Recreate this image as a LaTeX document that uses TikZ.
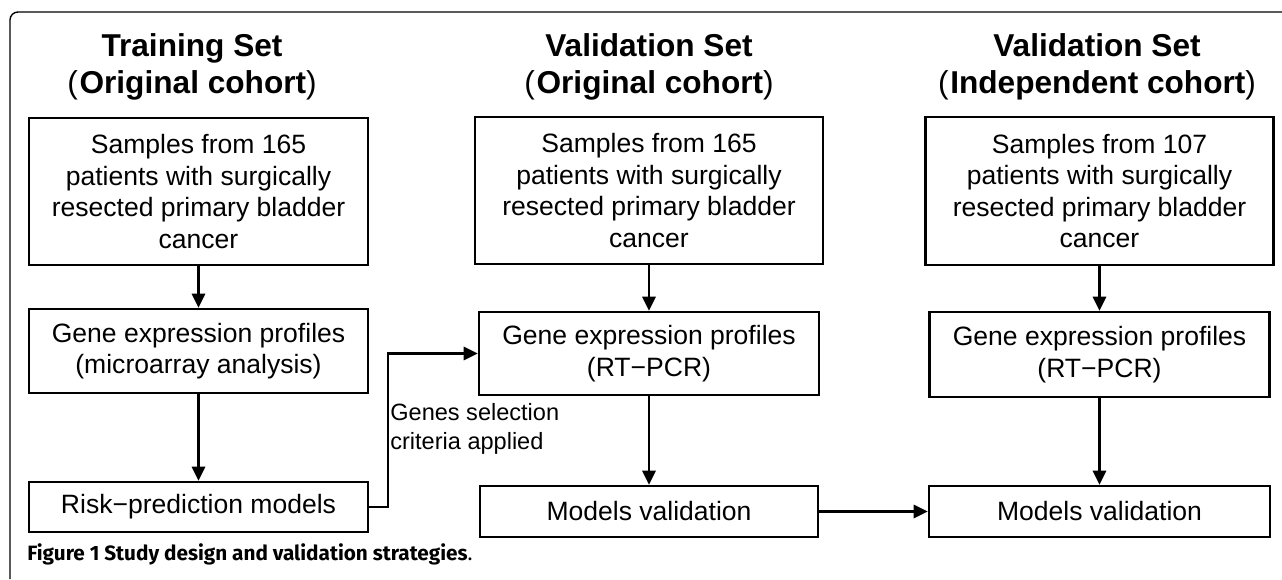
\documentclass[tikz,border=0pt]{standalone}
\usepackage{fontspec}
\setmainfont{Liberation Sans}
\newfontfamily\capfont{Fira Sans}
\usetikzlibrary{arrows.meta}
\newcommand{\pxu}{0.02cm}

\begin{document}
\begin{tikzpicture}[x=0.02cm, y=-0.02cm,
    box/.style={draw, line width=1.4pt, align=center, inner sep=0pt, font=\fontsize{15.1}{17.9}\selectfont},
    head/.style={align=center, inner sep=0pt, font=\bfseries\fontsize{18}{21}\selectfont},
    arr/.style={line width=1.4pt, -{Triangle[length=8pt, width=7.5pt]}}]
            \useasboundingbox (0,0) rectangle (1282,579);
            \draw [line width=0.8pt, rounded corners=4.5pt] (10,579) -- (10,12) -- (1282,12);
            \node [head] (train) at (192,67) {Training Set\\{\mdseries(}\kern1pt Original cohort{\mdseries)}};
            \node [head] (origin) at (649,67) {Validation Set\\{\mdseries(}\kern1pt Original cohort{\mdseries)}};
            \node [head] (indep) at (1097,67) {Validation Set\\{\mdseries(}\kern1pt Independent cohort{\mdseries)}};
            \node [box, minimum width=339*\pxu, minimum height=147*\pxu] (samples1) at (198.5,191.5) {Samples from 165\\patients with surgically\\resected primary bladder\\cancer};
            \node [box, minimum width=348*\pxu, minimum height=147*\pxu] (samples2) at (649,190.5) {Samples from 165\\patients with surgically\\resected primary bladder\\cancer};
            \node [box, minimum width=348*\pxu, minimum height=148*\pxu] (samples3) at (1099.5,191) {Samples from 107\\patients with surgically\\resected primary bladder\\cancer};
            \node [box, minimum width=339*\pxu, minimum height=84*\pxu] (profiles1) at (198.5,351) {Gene expression profiles\\(microarray analysis)};
            \node [box, minimum width=340*\pxu, minimum height=83*\pxu] (profiles2) at (649,353.5) {Gene expression profiles\\(RT−PCR)};
            \node [box, minimum width=340*\pxu, minimum height=85*\pxu] (profiles3) at (1099.5,354.5) {Gene expression profiles\\(RT−PCR)};
            \node [box, minimum width=339*\pxu, minimum height=50*\pxu] (risk1) at (198.5,507) {Risk−prediction models};
            \node [box, minimum width=338*\pxu, minimum height=51*\pxu] (validate2) at (649,511.5) {Models validation};
            \node [box, minimum width=341*\pxu, minimum height=51*\pxu] (validate3) at (1099.5,511.5) {Models validation};
            \node [anchor=west, align=left, inner sep=0pt, font=\fontsize{13.4}{16.4}\selectfont] (criteria) at (390,429) {Genes selection\\criteria applied};
            \node [anchor=west, inner sep=0pt, font=\capfont\fontsize{11.8}{13}\selectfont] (caption) at (27,554) {\textbf{Figure 1 Study design and validation strategies}.};
            \draw [arr] (samples1) -- (profiles1);
            \draw [arr] (profiles1) -- (risk1);
            \draw [arr] (samples2) -- (profiles2);
            \draw [arr] (profiles2) -- (validate2);
            \draw [arr] (samples3) -- (profiles3);
            \draw [arr] (profiles3) -- (validate3);
            \draw [arr] (risk1.east) -- ++(19,0) |- (profiles2.west);
            \draw [arr] (validate2) -- (validate3);
\end{tikzpicture}
\end{document}
